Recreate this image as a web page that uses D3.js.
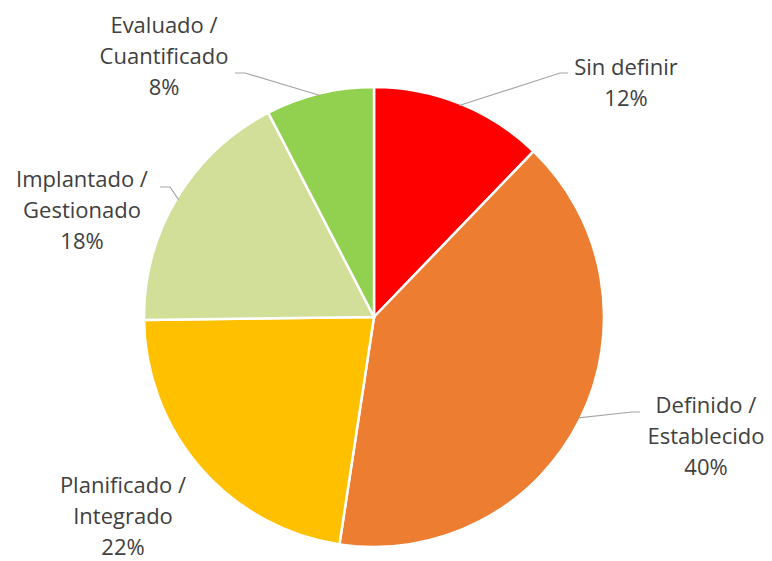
<!DOCTYPE html>
<html>
<head>
<meta charset="utf-8">
<script src="https://cdn.jsdelivr.net/npm/d3@7"></script>
<style>
  body { margin: 0; background: #fff; }
  svg text { font-family: "Open Sans", sans-serif; font-size: 22px; fill: #404040; }
</style>
</head>
<body>
<div id="chart"></div>
<script>
const categories = ["Sin definir", "Definido / Establecido", "Planificado / Integrado", "Implantado / Gestionado", "Evaluado / Cuantificado"];
const labelLines = [["Sin definir"], ["Definido /", "Establecido"], ["Planificado /", "Integrado"], ["Implantado /", "Gestionado"], ["Evaluado /", "Cuantificado"]];
const values = [12.2, 40.2, 22.4, 17.6, 7.6];
const colors = ["#FF0000", "#ED7D31", "#FFC000", "#D1DF98", "#92D050"];

// label placement relative to pie centre (x, baseline of first line) and leader elbow
const labelPos = [[252, -242], [332, 96], [-251, 176], [-292, -130], [-210, -284]];
const elbows = [[186, -244], [258, 95], null, [-204, -130], [-129, -244]];

const width = 772, height = 561;
const cx = 374, cy = 317, radius = 230;

const svg = d3.select("#chart").append("svg")
  .attr("width", width)
  .attr("height", height);

const g = svg.append("g").attr("transform", `translate(${cx},${cy})`);

const pie = d3.pie().sort(null).value(d => d);
const arcs = pie(values);
const arc = d3.arc().innerRadius(0).outerRadius(radius);

g.selectAll("path.slice")
  .data(arcs)
  .enter().append("path")
  .attr("class", "slice")
  .attr("d", arc)
  .attr("fill", (d, i) => colors[i])
  .attr("stroke", "#fff")
  .attr("stroke-width", 2.5);

// leader lines
const edge = d3.arc().innerRadius(radius - 2).outerRadius(radius - 2);
arcs.forEach((d, i) => {
  if (!elbows[i]) return;
  const p = edge.centroid(d);
  const e = elbows[i];
  const endX = e[0] + (e[0] > 0 ? 8 : -10);
  g.append("polyline")
    .attr("points", [p, e, [endX, e[1]]].map(q => q.join(",")).join(" "))
    .attr("fill", "none")
    .attr("stroke", "#A6A6A6")
    .attr("stroke-width", 1.2);
});

// labels
arcs.forEach((d, i) => {
  const lines = labelLines[i].concat([Math.round(values[i]) + "%"]);
  const t = g.append("text")
    .attr("text-anchor", "middle")
    .attr("x", labelPos[i][0])
    .attr("y", labelPos[i][1]);
  lines.forEach((s, j) => {
    t.append("tspan")
      .attr("x", labelPos[i][0])
      .attr("dy", j === 0 ? 0 : 31)
      .text(s);
  });
});
</script>
</body>
</html>
